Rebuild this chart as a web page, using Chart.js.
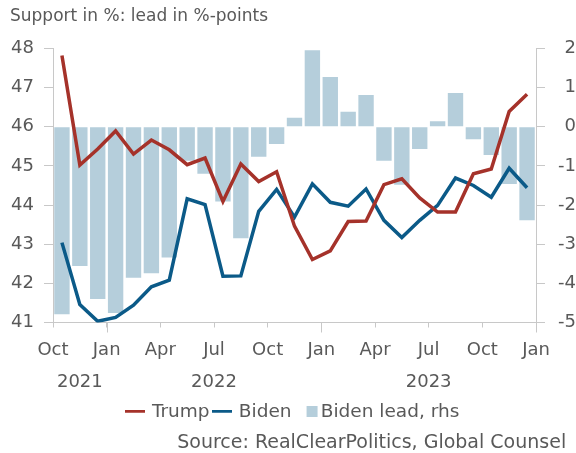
<!DOCTYPE html>
<html>
<head>
<meta charset="utf-8">
<script src="https://cdn.jsdelivr.net/npm/chart.js@4"></script>
<style>
  html, body { margin: 0; padding: 0; background: #fff; }
  #wrap { width: 576px; height: 453px; }
</style>
</head>
<body>
<div id="wrap"><canvas id="poll-chart"></canvas></div>
<script>
// monthly averages, Oct 2021 .. Dec 2023
var months = ['Oct 21','Nov 21','Dec 21','Jan 22','Feb 22','Mar 22','Apr 22','May 22','Jun 22','Jul 22','Aug 22','Sep 22',
    'Oct 22','Nov 22','Dec 22','Jan 23','Feb 23','Mar 23','Apr 23','May 23','Jun 23','Jul 23','Aug 23','Sep 23','Oct 23','Nov 23','Dec 23'];
var trump = [47.82, 45.02, 45.43, 45.89, 45.30, 45.66, 45.41, 45.03, 45.20, 44.09, 45.05, 44.60,
    44.85, 43.46, 42.61, 42.83, 43.58, 43.59, 44.52, 44.67, 44.18, 43.82, 43.82, 44.80, 44.92, 46.39, 46.83];
var biden = [43.04, 41.46, 41.03, 41.13, 41.44, 41.91, 42.08, 44.16, 44.01, 42.18, 42.19, 43.84,
    44.40, 43.69, 44.54, 44.07, 43.97, 44.41, 43.61, 43.17, 43.61, 43.99, 44.69, 44.50, 44.20, 44.94, 44.44];
var bidenLead = [-4.79, -3.56, -4.40, -4.76, -3.86, -3.74, -3.34, -0.87, -1.20, -1.91, -2.85, -0.77,
    -0.44, 0.23, 1.95, 1.27, 0.38, 0.81, -0.87, -1.48, -0.57, 0.14, 0.86, -0.32, -0.72, -1.46, -2.39];

var quarterLabels = ['Oct','Jan','Apr','Jul','Oct','Jan','Apr','Jul','Oct','Jan'];
var yearLabels = ['2021', '2022', '2023'];
var yearPos = [1.5, 9, 21];
var janPos = [3, 15, 27];

var RED = '#a5322a', BLUE = '#0b5a88', BAR = '#b5cedb', AXIS = '#c8c8c8', TEXT = '#595959';
var FONT = 'DejaVu Sans';

function pts(arr) {
    return arr.map(function (v, i) { return { x: i + 0.5, y: v }; });
}

// small canvases used as legend markers
function legendLine(color) {
    var c = document.createElement('canvas');
    c.width = 20; c.height = 4;
    var g = c.getContext('2d');
    g.fillStyle = color;
    g.fillRect(0, 0, 20, 3);
    return c;
}
function legendSquare(color) {
    var c = document.createElement('canvas');
    c.width = 36; c.height = 11;
    var g = c.getContext('2d');
    g.fillStyle = color;
    g.fillRect(21, 0, 11, 11);
    return c;
}

// longer tick marks at each January
var janTicks = {
    id: 'janTicks',
    afterDraw: function (chart) {
        var x = chart.scales.x, c = chart.ctx;
        c.save();
        c.strokeStyle = AXIS;
        c.lineWidth = 1;
        janPos.forEach(function (v) {
            var px = Math.round(x.getPixelForValue(v)) + 0.5;
            c.beginPath();
            c.moveTo(px, x.top);
            c.lineTo(px, x.top + 10);
            c.stroke();
        });
        c.restore();
    }
};

var ctx = document.getElementById('poll-chart').getContext('2d');
var chart = new Chart(ctx, {
    type: 'bar',
    data: {
        datasets: [
            {
                type: 'line',
                label: 'Trump',
                data: pts(trump),
                borderColor: RED,
                backgroundColor: RED,
                borderWidth: 3.5,
                pointRadius: 0,
                tension: 0,
                yAxisID: 'y',
                order: 1
            },
            {
                type: 'line',
                label: 'Biden',
                data: pts(biden),
                borderColor: BLUE,
                backgroundColor: BLUE,
                borderWidth: 3.5,
                pointRadius: 0,
                tension: 0,
                yAxisID: 'y',
                order: 1
            },
            {
                label: 'Biden lead, rhs',
                data: pts(bidenLead),
                backgroundColor: BAR,
                borderWidth: 0,
                barPercentage: 0.86,
                categoryPercentage: 1,
                yAxisID: 'y2',
                order: 2
            }
        ]
    },
    options: {
        responsive: true,
        maintainAspectRatio: false,
        animation: false,
        layout: { padding: { left: 10, right: 0, top: 0, bottom: 0 } },
        scales: {
            x: {
                type: 'linear',
                min: 0,
                max: 27,
                offset: false,
                grid: { display: true, offset: false, drawOnChartArea: false, color: AXIS, tickLength: 5 },
                border: { color: AXIS },
                ticks: {
                    stepSize: 3,
                    autoSkip: false,
                    maxRotation: 0,
                    color: TEXT,
                    padding: 12,
                    font: { family: FONT, size: 18 },
                    callback: function (v) { return quarterLabels[v / 3]; }
                },
                afterFit: function (s) { s.height = 41; }
            },
            years: {
                type: 'linear',
                position: 'bottom',
                min: 0,
                max: 27,
                offset: false,
                grid: { display: false, offset: false },
                border: { display: false },
                ticks: {
                    stepSize: 0.5,
                    autoSkip: false,
                    maxRotation: 0,
                    color: TEXT,
                    padding: 0,
                    font: { family: FONT, size: 18 },
                    callback: function (v) {
                        var k = yearPos.indexOf(v);
                        return k < 0 ? '' : yearLabels[k];
                    }
                },
                afterFit: function (s) { s.height = 35; }
            },
            y: {
                position: 'left',
                min: 41,
                max: 48,
                grid: { drawOnChartArea: false, color: AXIS, tickLength: 9 },
                border: { color: AXIS },
                ticks: { stepSize: 1, color: TEXT, padding: 10, font: { family: FONT, size: 18 } },
                afterFit: function (s) { s.width = 43; }
            },
            y2: {
                position: 'right',
                min: -5,
                max: 2,
                grid: { drawOnChartArea: false, color: AXIS, tickLength: 9 },
                border: { color: AXIS },
                ticks: { stepSize: 1, color: TEXT, padding: 2, crossAlign: 'far', font: { family: FONT, size: 18 } },
                afterFit: function (s) { s.width = 40; }
            }
        },
        plugins: {
            title: {
                display: true,
                text: 'Support in %: lead in %-points',
                align: 'start',
                color: TEXT,
                font: { family: FONT, size: 17, weight: 'normal' },
                padding: { top: 6, bottom: 22 }
            },
            subtitle: {
                display: true,
                // trailing space keeps the line off the right edge
                text: 'Source: RealClearPolitics, Global Counsel \u2009',
                position: 'bottom',
                align: 'end',
                color: TEXT,
                font: { family: FONT, size: 19, weight: 'normal', lineHeight: 1 },
                padding: { top: 3, bottom: 0 }
            },
            legend: {
                position: 'bottom',
                labels: {
                    color: TEXT,
                    font: { family: FONT, size: 18.5 },
                    usePointStyle: true,
                    pointStyleWidth: 16,
                    padding: 4,
                    generateLabels: function (chart) {
                        return chart.data.datasets.map(function (d, i) {
                            var isLine = d.type === 'line';
                            return {
                                text: d.label,
                                fillStyle: isLine ? d.borderColor : d.backgroundColor,
                                strokeStyle: isLine ? d.borderColor : d.backgroundColor,
                                lineWidth: 0,
                                pointStyle: isLine ? legendLine(d.borderColor) : legendSquare(d.backgroundColor),
                                fontColor: TEXT,
                                datasetIndex: i
                            };
                        });
                    }
                }
            },
            tooltip: { enabled: false }
        }
    },
    plugins: [janTicks]
});
</script>
</body>
</html>
